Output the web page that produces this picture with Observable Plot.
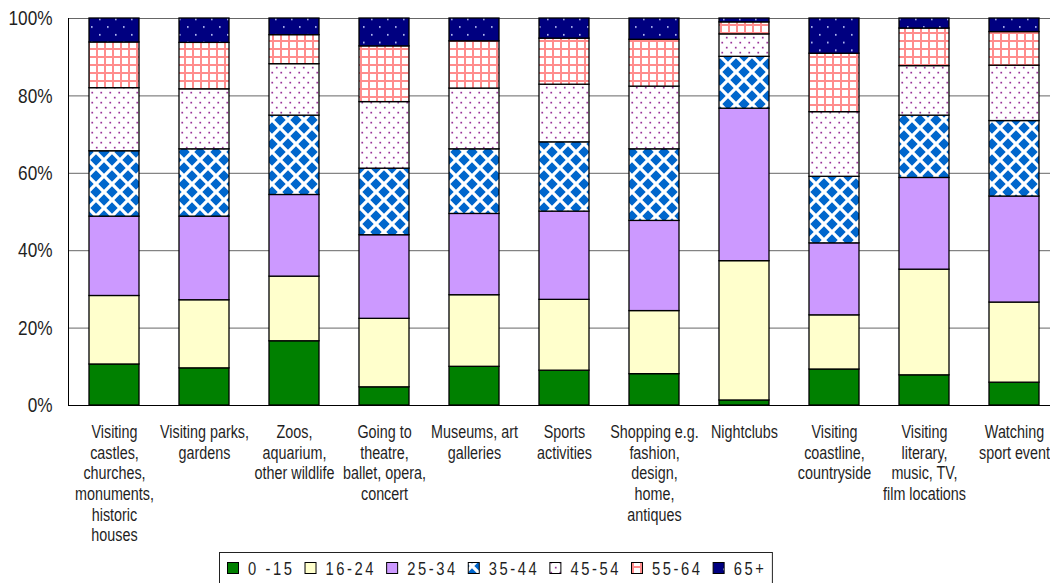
<!DOCTYPE html>
<html>
<head>
<meta charset="utf-8">
<script src="https://cdn.jsdelivr.net/npm/d3@7"></script>
<script src="https://cdn.jsdelivr.net/npm/@observablehq/plot@0.6"></script>
<style>
  html, body { margin: 0; padding: 0; background: #fff; overflow: hidden; }
  #wrap { position: relative; width: 1050px; height: 583px; }
  #chart svg { display: block; }
  #legend { position: absolute; left: 0; top: 550px; display: block; }
</style>
</head>
<body>
<!-- Fill patterns shared by the bars and the legend swatches -->
<svg width="0" height="0" style="position:absolute">
  <defs>
    <filter id="soften" x="-20%" y="-20%" width="140%" height="140%">
      <feGaussianBlur stdDeviation="0.5"/>
    </filter>
    <pattern id="fill-35-44" width="16" height="16" patternUnits="userSpaceOnUse">
      <rect width="16" height="16" fill="#fff"/>
      <g filter="url(#soften)">
        <path fill="#0066cc" d="M8 2.3 L13.7 8 L8 13.7 L2.3 8Z M0 -5.7 L5.7 0 L0 5.7 L-5.7 0Z M16 -5.7 L21.7 0 L16 5.7 L10.3 0Z M0 10.3 L5.7 16 L0 21.7 L-5.7 16Z M16 10.3 L21.7 16 L16 21.7 L10.3 16Z"/>
      </g>
    </pattern>
    <pattern id="fill-45-54" width="9" height="10" patternUnits="userSpaceOnUse">
      <rect width="9" height="10" fill="#fff"/>
      <rect x="1.4" y="1.8" width="1.7" height="1.7" fill="#993399"/>
      <rect x="5.9" y="6.8" width="1.7" height="1.7" fill="#993399"/>
    </pattern>
    <pattern id="fill-55-64" width="8" height="8" patternUnits="userSpaceOnUse">
      <rect width="8" height="8" fill="#fff"/>
      <rect x="0" y="0" width="8" height="2" fill="#ff8c8c"/>
      <rect x="0" y="0" width="2" height="8" fill="#ff8c8c"/>
    </pattern>
    <pattern id="fill-65" width="16" height="15.5" patternUnits="userSpaceOnUse">
      <rect width="16" height="15.5" fill="#000080"/>
      <rect x="3" y="3" width="1.6" height="1.6" fill="#c8d0ff"/>
      <rect x="11" y="10.7" width="1.6" height="1.6" fill="#c8d0ff"/>
    </pattern>
  </defs>
</svg>
<div id="wrap">
  <div id="chart"></div>
  <svg id="legend" width="1050" height="33"></svg>
</div>
<script>
// Activities (x categories) and how their labels wrap under the axis
const activities = [
  "Visiting castles, churches, monuments, historic houses",
  "Visiting parks, gardens",
  "Zoos, aquarium, other wildlife",
  "Going to theatre, ballet, opera, concert",
  "Museums, art galleries",
  "Sports activities",
  "Shopping e.g. fashion, design, home, antiques",
  "Nightclubs",
  "Visiting coastline, countryside",
  "Visiting literary, music, TV, film locations",
  "Watching sport event"
];
const activityLabels = [
  "Visiting\ncastles,\nchurches,\nmonuments,\nhistoric\nhouses",
  "Visiting parks,\ngardens",
  "Zoos,\naquarium,\nother wildlife",
  "Going to\ntheatre,\nballet, opera,\nconcert",
  "Museums, art\ngalleries",
  "Sports\nactivities",
  "Shopping e.g.\nfashion,\ndesign,\nhome,\nantiques",
  "Nightclubs",
  "Visiting\ncoastline,\ncountryside",
  "Visiting\nliterary,\nmusic, TV,\nfilm locations",
  "Watching\nsport event"
];

// Age groups, bottom to top of each stack
const ageGroups = ["0 -15", "16-24", "25-34", "35-44", "45-54", "55-64", "65+"];

// Share of participants (%) per activity, one array per age group
const age0to15  = [10.6,  9.6, 16.6,  4.7, 10.0,  9.0,  8.1,  1.3,  9.3,  7.8,  5.9];
const age16to24 = [17.7, 17.6, 16.7, 17.7, 18.5, 18.3, 16.3, 36.0, 14.0, 27.3, 20.7];
const age25to34 = [20.5, 21.6, 21.1, 21.6, 21.0, 22.8, 23.3, 39.4, 18.6, 23.7, 27.4];
const age35to44 = [16.9, 17.4, 20.5, 17.2, 16.7, 17.9, 18.5, 13.4, 17.2, 16.1, 19.5];
const age45to54 = [16.3, 15.5, 13.3, 17.2, 15.7, 14.9, 16.2,  5.8, 16.7, 12.8, 14.3];
const age55to64 = [11.8, 12.0,  7.5, 14.4, 12.2, 11.9, 12.1,  3.1, 15.1,  9.7,  8.7];
const age65plus = [ 6.2,  6.3,  4.3,  7.2,  5.9,  5.2,  5.5,  1.0,  9.1,  2.6,  3.5];

const yTicks = [0, 20, 40, 60, 80, 100];

const series = [age0to15, age16to24, age25to34, age35to44, age45to54, age55to64, age65plus];
const groupFills = [
  "#008000", "#ffffcc", "#cc99ff",
  "url(#fill-35-44)", "url(#fill-45-54)", "url(#fill-55-64)", "url(#fill-65)"
];

const rows = activities.flatMap((activity, i) =>
  ageGroups.map((group, j) => ({activity, group, value: series[j][i]}))
);

const FONT = '"Liberation Sans", Arial, sans-serif';
const NARROW = 0.82; // horizontal squeeze giving a narrow sans face

const chart = Plot.plot({
  width: 1050,
  height: 550,
  marginLeft: 68,
  marginRight: 0,
  marginTop: 18,
  marginBottom: 145,
  style: {fontFamily: FONT, color: "#1f1f1f", background: "#fff", overflow: "hidden"},
  x: {domain: activities, range: [68, 1059], paddingInner: 0.445, paddingOuter: 0.2225, align: 0.5, label: null},
  y: {domain: [0, 100], label: null},
  color: {domain: ageGroups, range: groupFills},
  marks: [
    Plot.gridY(yTicks.slice(1), {stroke: "#000", strokeOpacity: 0.6}),
    Plot.barY(rows, {x: "activity", y: "value", fill: "group", stroke: "#000", strokeWidth: 1.3}),
    Plot.ruleY([0], {stroke: "#000"}),
    Plot.frame({anchor: "left", stroke: "#000"}),
    Plot.axisY({ticks: yTicks, tickFormat: d => d + "%", tickSize: 0, tickPadding: 16, fontSize: 21, label: null}),
    Plot.axisX({
      tickSize: 0, tickPadding: 18, fontSize: 17.5, lineHeight: 1.18, label: null,
      tickFormat: d => activityLabels[activities.indexOf(d)]
    })
  ]
});
document.getElementById("chart").append(chart);

// Squeeze the tick labels horizontally around their anchors
d3.select(chart)
  .selectAll("g[aria-label='x-axis tick label'] text, g[aria-label='y-axis tick label'] text")
  .attr("transform", function() {
    return (this.getAttribute("transform") || "") + ` scale(${NARROW},1)`;
  });

// Legend: one swatch per age group, drawn with the same fills as the bars
const legend = d3.select("#legend")
  .style("font-family", FONT).style("font-size", "18px").style("fill", "#1f1f1f");
const box = legend.append("rect")
  .attr("x", 219.5).attr("y", 2.5).attr("height", 40)
  .attr("fill", "#fff").attr("stroke", "#222");
let cx = 227;
ageGroups.forEach((g, i) => {
  legend.append("rect")
    .attr("x", cx + 0.5).attr("y", 12.5).attr("width", 11).attr("height", 11)
    .attr("fill", groupFills[i]).attr("stroke", "#000");
  const t = legend.append("text")
    .attr("transform", `translate(${cx + 21},24.5) scale(${NARROW},1)`)
    .attr("letter-spacing", 3.15)
    .text(g);
  const w = t.node().getComputedTextLength() * NARROW;
  cx += 21 + w + 10;
});
box.attr("width", cx - 10 + 6 - 219.5);
</script>
</body>
</html>
